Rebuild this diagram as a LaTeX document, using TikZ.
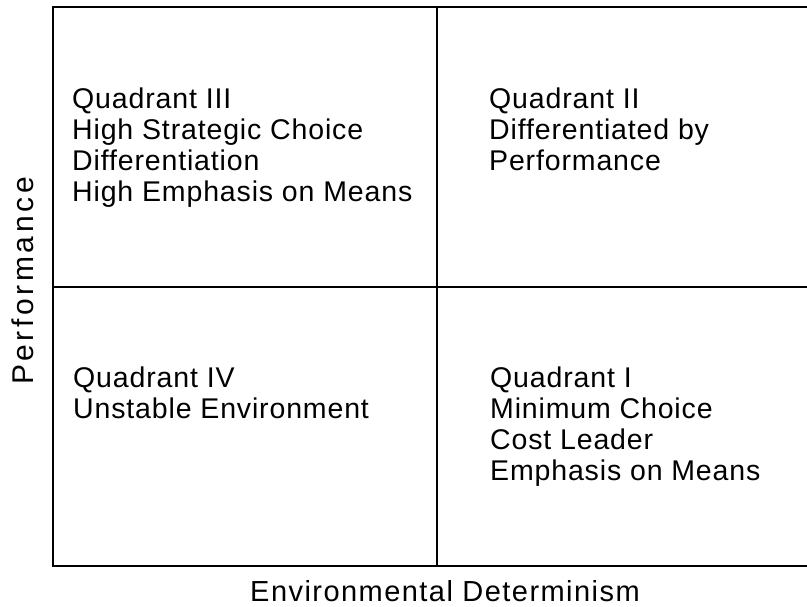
\documentclass[tikz,border=0pt]{standalone}
\usepackage{fontspec}
\setmainfont{Liberation Sans}
\newfontfamily\quadfont[LetterSpace=3]{Liberation Sans}
\newfontfamily\axisfont[LetterSpace=5]{Liberation Sans}
\newfontfamily\perffont[LetterSpace=12]{Liberation Sans}
\begin{document}
\begin{tikzpicture}[x=1pt, y=1pt]
\useasboundingbox (0, 0) rectangle (807, 606);

\coordinate(tl) at (53, 599);
\coordinate(bl) at (53, 40);
\coordinate(tr) at (810, 599);
\coordinate(br) at (810, 40);
\coordinate(mt) at (437, 599);
\coordinate(mb) at (437, 40);
\coordinate(ml) at (53, 319);
\coordinate(mr) at (810, 319);

\draw[line width=1.6pt] (tr)--(tl)--(bl)--(br);
\draw[line width=1.6pt] (mt)--(mb);
\draw[line width=1.6pt] (ml)--(mr);

\node(q3)[anchor=north west, inner sep=0, align=left, font={\quadfont\fontsize{28.5}{31}\selectfont}] at (72, 518)
    {Quadrant III\\High Strategic Choice\\Differentiation\\High Emphasis on Means};
\node(q2)[anchor=north west, inner sep=0, align=left, font={\quadfont\fontsize{28.5}{31}\selectfont}] at (489, 518)
    {Quadrant II\\Differentiated by\\Performance};
\node(q4)[anchor=north west, inner sep=0, align=left, font={\quadfont\fontsize{28.5}{31}\selectfont}] at (73, 239)
    {Quadrant IV\\Unstable Environment};
\node(q1)[anchor=north west, inner sep=0, align=left, font={\quadfont\fontsize{28.5}{31}\selectfont}] at (490, 239)
    {Quadrant I\\Minimum Choice\\Cost Leader\\Emphasis on Means};

\node(xlabel)[anchor=base, inner sep=0, font={\axisfont\fontsize{29}{31}\selectfont}] at (445, 5)
    {Environmental Determinism};
\node(ylabel)[anchor=base, rotate=90, inner sep=0, font={\perffont\fontsize{30}{31}\selectfont}] at (33, 325)
    {Performance};
\end{tikzpicture}
\end{document}
